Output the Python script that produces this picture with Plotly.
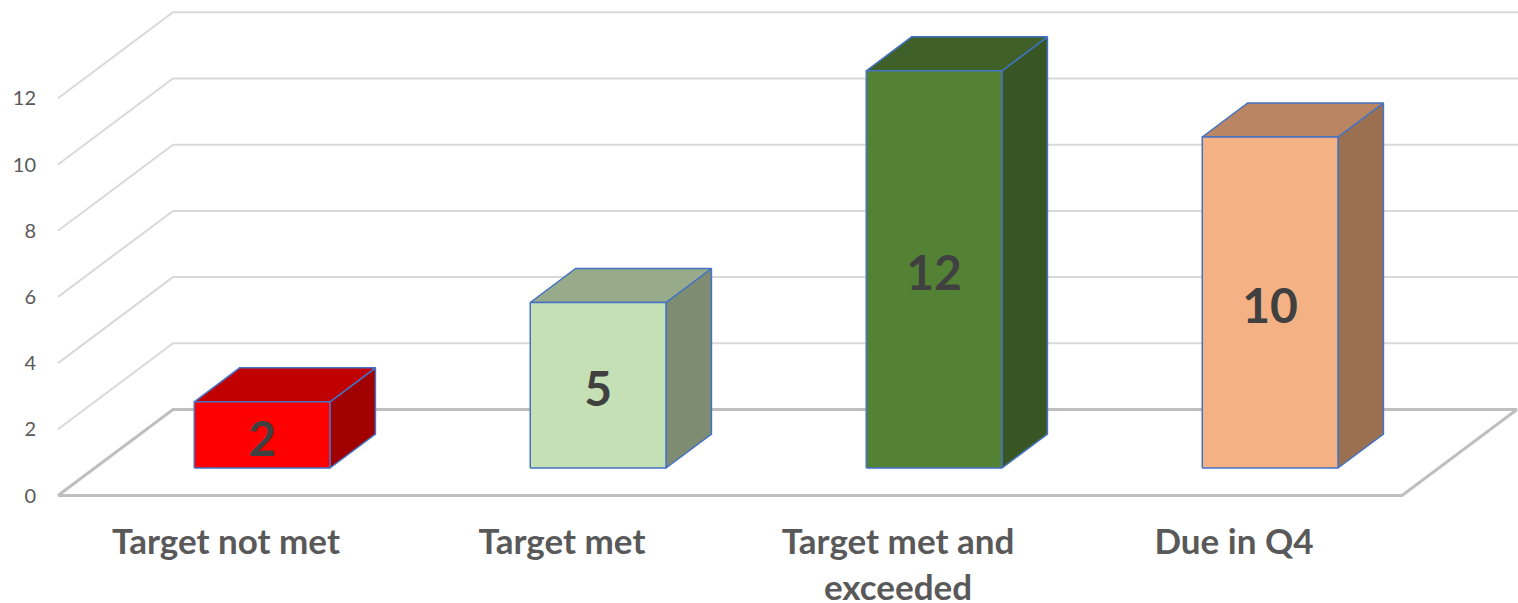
import plotly.graph_objects as go

categories = ["Target not met", "Target met", "Target met and<br>exceeded", "Due in Q4"]
values = [2, 5, 12, 10]
y_ticks = [0, 2, 4, 6, 8, 10, 12]

front_colors = ["#FF0000", "#C5E0B4", "#548235", "#F4B183"]
top_colors = ["#C00000", "#97AB8A", "#3F6129", "#BA8563"]
side_colors = ["#A00000", "#7E8C71", "#375623", "#9A7050"]

# projection constants (pixel geometry of the oblique 3D look)
PX_C = 336.0      # px per category
PX_V = 33.1       # px per value unit
DEPTH_X = 115.0   # px shift right for full depth
DEPTH_Y = 86.0    # px shift up for full depth
X0 = 58.0         # px of category 0 front
Y0 = 495.5        # px of value 0 front
W, H = 1518, 603

KX = DEPTH_X / PX_C
KY = DEPTH_Y / PX_V


def proj(c, v, d):
    return c + KX * d, v + KY * d


def poly(pts):
    xs, ys = [], []
    for c, v, d in pts + [pts[0]]:
        x, y = proj(c, v, d)
        xs.append(x)
        ys.append(y)
    return xs, ys


fig = go.Figure()
n = len(categories)
grid_col = "#D9D9D9"
floor_col = "#BFBFBF"

# back wall + side wall gridlines
for t in y_ticks:
    if t == 0:
        continue
    xs, ys = [], []
    for c, v, d in [(0, t, 0), (0, t, 1), (n + 0.01, t, 1)]:
        x, y = proj(c, v, d)
        xs.append(x)
        ys.append(y)
    fig.add_trace(go.Scatter(x=xs, y=ys, mode="lines", line=dict(color=grid_col, width=2),
                             hoverinfo="skip", showlegend=False))

# floor outline
xs, ys = poly([(0, 0, 0), (0, 0, 1), (n, 0, 1), (n, 0, 0)])
fig.add_trace(go.Scatter(x=xs, y=ys, mode="lines", line=dict(color=floor_col, width=3),
                         hoverinfo="skip", showlegend=False))

D_F, D_B = 0.32, 0.715
BW = 0.404
edge = dict(color="#4472C4", width=1.5)
for i, (val, fc, tc, sc) in enumerate(zip(values, front_colors, top_colors, side_colors)):
    c0 = i + 0.498 - BW / 2
    c1 = c0 + BW
    # side face
    xs, ys = poly([(c1, 0, D_F), (c1, 0, D_B), (c1, val, D_B), (c1, val, D_F)])
    fig.add_trace(go.Scatter(x=xs, y=ys, mode="lines", fill="toself", fillcolor=sc, line=edge,
                             hoverinfo="skip", showlegend=False))
    # top face
    xs, ys = poly([(c0, val, D_F), (c0, val, D_B), (c1, val, D_B), (c1, val, D_F)])
    fig.add_trace(go.Scatter(x=xs, y=ys, mode="lines", fill="toself", fillcolor=tc, line=edge,
                             hoverinfo="skip", showlegend=False))
    # front face
    xs, ys = poly([(c0, 0, D_F), (c1, 0, D_F), (c1, val, D_F), (c0, val, D_F)])
    fig.add_trace(go.Scatter(x=xs, y=ys, mode="lines", fill="toself", fillcolor=fc, line=edge,
                             hoverinfo="skip", showlegend=False))
    # value label
    lx, ly = proj((c0 + c1) / 2, val / 2, D_F)
    fig.add_trace(go.Scatter(x=[lx], y=[ly - 9 / PX_V], mode="text", text=[str(val)],
                             textposition="middle center",
                             textfont=dict(family="Lato", size=48, color="#404040", weight="bold"),
                             hoverinfo="skip", showlegend=False))

x_lo = -X0 / PX_C
x_hi = (W - X0) / PX_C
y_hi = Y0 / PX_V
y_lo = -(H - Y0) / PX_V

fig.update_layout(
    width=W, height=H,
    margin=dict(l=0, r=0, t=0, b=0, pad=0, autoexpand=False),
    paper_bgcolor="white", plot_bgcolor="white",
    xaxis=dict(range=[x_lo, x_hi], domain=[0, 1], anchor="free", position=(H - 518) / H,
               automargin=False,
               tickmode="array", tickvals=[i + 0.5 for i in range(n)], ticktext=categories,
               showgrid=False, zeroline=False, showline=False, ticks="",
               tickfont=dict(family="Lato", size=35, color="#595959", weight="bold")),
    yaxis=dict(range=[y_lo, y_hi], domain=[0, 1], anchor="free", position=36 / W,
               automargin=False,
               tickmode="array", tickvals=y_ticks,
               showgrid=False, zeroline=False, showline=False, ticks="",
               tickfont=dict(family="Lato", size=20, color="#595959")),
)

fig.write_html("out.html")
